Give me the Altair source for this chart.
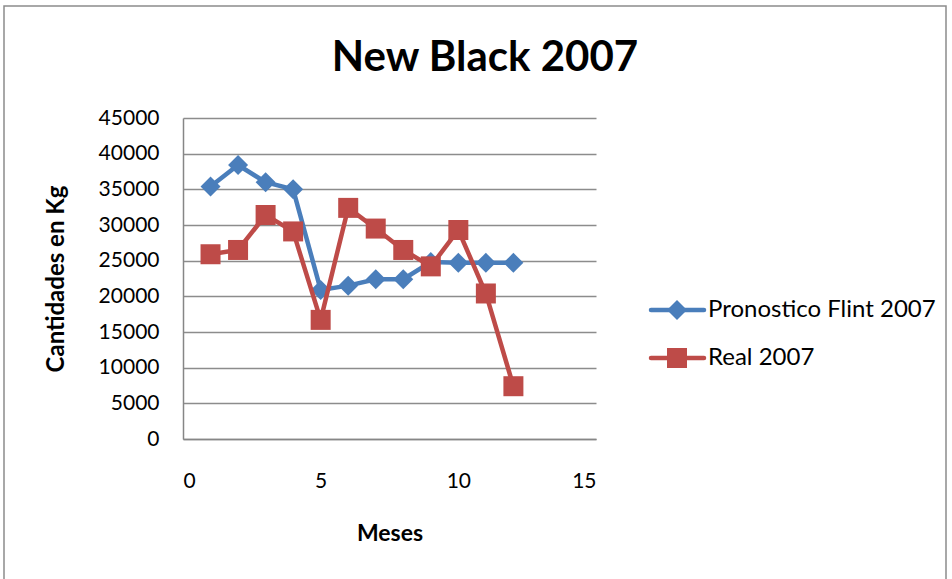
import altair as alt
import pandas as pd

# Monthly figures, 2007
meses = [1, 2, 3, 4, 5, 6, 7, 8, 9, 10, 11, 12]
pronostico = [35400, 38400, 36000, 35000, 20900, 21500, 22400, 22400, 24800, 24700, 24700, 24700]
real = [25900, 26500, 31400, 29100, 16700, 32400, 29500, 26500, 24200, 29300, 20400, 7400]

series_names = ["Pronostico Flint 2007", "Real 2007"]
series_colors = ["#4A7EBB", "#BE4B48"]
series_shapes = ["diamond", "square"]

y_ticks = [0, 5000, 10000, 15000, 20000, 25000, 30000, 35000, 40000, 45000]
x_ticks = [0, 5, 10, 15]

chart_title = "New Black 2007"

FONT = "Lato"

W, H = 413, 321

x_scale = alt.Scale(domain=[0, 15], nice=False)
y_scale = alt.Scale(domain=[0, 45000], nice=False)

x_enc = alt.X(
    "mes:Q", scale=x_scale,
    axis=alt.Axis(values=x_ticks, title="Meses", grid=False, ticks=False,
                  format="d", labelPadding=31, titlePadding=31, labelFontSize=21,
                  titleFontSize=23, titleFontWeight="bold",
                  domainColor="#868686", domainWidth=1.5,
                  labelColor="black", titleColor="black"))
y_enc = alt.Y(
    "valor:Q", scale=y_scale,
    axis=alt.Axis(values=y_ticks, title="Cantidades en Kg", grid=True,
                  ticks=False, format="d", labelPadding=24, titlePadding=30,
                  labelFontSize=21, titleFontSize=24, titleFontWeight="bold",
                  gridColor="#8C8C8C", gridWidth=1.5,
                  domainColor="#868686", domainWidth=1.5,
                  labelColor="black", titleColor="black"))


def series_layers(values, name, color, shape):
    df = pd.DataFrame({"mes": meses, "valor": values, "serie": name})
    base = alt.Chart(df).encode(x=x_enc, y=y_enc)
    line = base.mark_line(color=color, strokeWidth=4.5)
    pts = base.mark_point(shape=shape, filled=True, color=color, size=400, opacity=1)
    return line + pts


blue = series_layers(pronostico, series_names[0], series_colors[0], series_shapes[0])
red = series_layers(real, series_names[1], series_colors[1], series_shapes[1])

# Legend drawn beside the plot: a short line with the series marker, then the label
one = pd.DataFrame({"k": [0]})
legend_layers = []
for i, (name, color, shape) in enumerate(zip(series_names, series_colors, series_shapes)):
    ly = 192 + i * 48
    legend_layers.append(
        alt.Chart(one).mark_rule(color=color, strokeWidth=4.5, strokeCap="round").encode(
            x=alt.value(468), x2=alt.value(521), y=alt.value(ly)))
    legend_layers.append(
        alt.Chart(one).mark_point(shape=shape, filled=True, color=color, size=400, opacity=1).encode(
            x=alt.value(494), y=alt.value(ly)))
    legend_layers.append(
        alt.Chart(one).mark_text(text=name, align="left", baseline="middle",
                                 fontSize=24, font=FONT, color="black").encode(
            x=alt.value(525), y=alt.value(ly)))

# Chart heading, centred over the whole frame
heading = alt.Chart(one).mark_text(
    text=chart_title, align="center", baseline="alphabetic", fontSize=42,
    font=FONT, fontWeight="bold", color="black").encode(
    x=alt.value(302), y=alt.value(-47))

# Outer chart frame
frame = alt.Chart(one).mark_rect(fillOpacity=0, stroke="#8C8C8C", strokeWidth=1.5).encode(
    x=alt.value(-179), x2=alt.value(763), y=alt.value(-112), y2=alt.value(480))

chart = alt.layer(frame, heading, blue, red, *legend_layers).properties(
    width=W, height=H,
    autosize=alt.AutoSizeParams(type="none"),
    padding={"left": 183, "top": 118, "right": 356, "bottom": 140},
).configure(font=FONT).configure_view(strokeWidth=0)

chart.save("out.html", embed_options={"renderer": "svg", "actions": False})
